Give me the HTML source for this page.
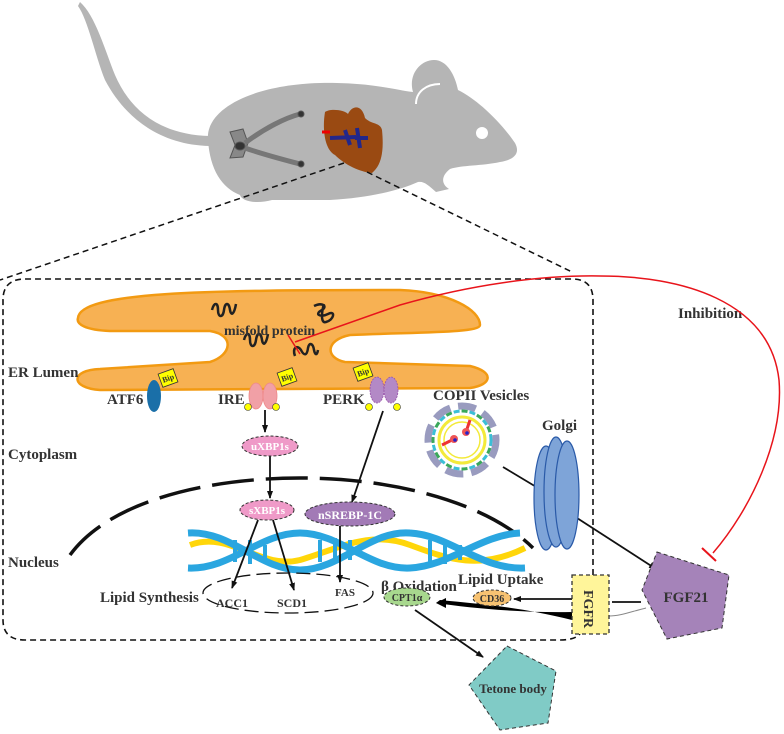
<!DOCTYPE html>
<html><head><meta charset="utf-8"><style>
html,body{margin:0;padding:0;background:#fff}
svg{display:block}
text{font-family:"Liberation Serif",serif;font-weight:bold;fill:#333}
</style></head><body>
<svg width="784" height="734" viewBox="0 0 784 734" xmlns="http://www.w3.org/2000/svg">
<defs>
<marker id="ar" markerWidth="8" markerHeight="8" refX="7" refY="4" orient="auto" markerUnits="userSpaceOnUse"><path d="M0,1 L8,4 L0,7 Z" fill="#111"/></marker>
</defs>
<!-- mouse -->
<g fill="#b5b5b5">
<path d="M80,2 C95,15 105,50 115,75 C130,110 160,135 210,136 L210,146 C160,145 125,118 105,80 C95,55 88,20 78,6 Z"/>
<path d="M208,140 C205,110 250,85 320,83 C370,82 395,90 413,92 C408,75 420,60 434,60 C447,60 455,75 458,90 C482,102 505,128 515,143 C521,154 513,160 500,162 C482,166 462,165 450,169 C441,176 441,184 449,189 L436,192 C428,185 424,181 418,182 C400,190 370,198 330,200 L272,200 C258,204 242,202 240,195 C222,188 210,170 208,140 Z"/>
</g>
<path d="M416,104 C416,92 426,84 440,84" stroke="#fff" stroke-width="2" fill="none"/>
<circle cx="482" cy="133" r="6" fill="#fff"/>
<!-- kidneys -->
<g stroke="#555" fill="#888">
<path d="M230,132 L243,129 L248,143 L243,157 L230,158 L235,145 Z"/>
<path d="M245,143 C265,128 285,118 300,114" stroke="#777" stroke-width="5" fill="none"/>
<path d="M245,148 C265,155 285,160 300,164" stroke="#777" stroke-width="5" fill="none"/>
<circle cx="301" cy="114" r="3" fill="#333"/><circle cx="301" cy="164" r="3" fill="#333"/>
<ellipse cx="240" cy="146" rx="5" ry="4" fill="#333"/>
</g>
<!-- liver -->
<path d="M325,112 C330,108 345,110 348,114 C352,105 362,104 365,118 C372,125 380,122 382,130 C384,150 382,165 372,173 C360,172 345,165 335,155 C325,150 322,130 325,112 Z" fill="#9a4a12"/>
<path d="M330,138 L356,137 M345,130 L350,145 M357,128 L360,148 M355,138 L368,138" stroke="#22278a" stroke-width="4"/>
<path d="M322,132 L330,132" stroke="#e00" stroke-width="3"/>
<!-- zoom lines -->
<path d="M344,163 L0,280" stroke="#111" stroke-width="1.5" stroke-dasharray="6,4" fill="none"/>
<path d="M367,172 L572,272" stroke="#111" stroke-width="1.5" stroke-dasharray="6,4" fill="none"/>
<!-- cell frame -->
<path d="M593,575 L593,300 Q593,279 572,279 L25,279 Q3,279 3,300 L3,620 Q3,640 25,640 L560,640 Q575,640 580,634" stroke="#111" stroke-width="1.6" stroke-dasharray="6,4" fill="none"/>
<!-- ER -->
<path d="M78,318 C80,292 200,290 400,290 C450,292 480,310 480,325 C480,333 420,332 350,335 C325,340 325,358 345,362 L470,366 C495,372 492,385 470,388 L100,390 C70,388 70,370 100,369 L210,362 C232,355 235,335 210,331 L110,331 C85,330 76,324 78,318 Z" fill="#f7b153" stroke="#f29a12" stroke-width="2.5"/>
<!-- misfold squiggles -->
<g stroke="#222" stroke-width="2.5" fill="none">
<path d="M212,310 c2,-8 6,-8 6,0 c0,8 5,8 6,0 c1,-8 5,-8 6,0 c1,6 4,5 6,-6"/>
<path d="M244,340 c2,-8 6,-8 6,0 c0,8 5,8 6,0 c1,-8 5,-8 6,0 c1,6 4,5 6,-6"/>
<path d="M295,356 c-3,-8 2,-12 6,-6 c3,6 6,6 7,-2 c1,-6 5,-5 6,2 c1,5 3,6 4,0"/>
<path d="M314,306 c8,-4 14,0 8,4 c-8,4 -2,8 6,4 c8,-4 6,6 -2,8 c-6,2 -4,-12 -2,-18"/>
</g>
<text x="224" y="335" font-size="14">misfold protein</text>
<!-- Bip & receptors -->
<g font-size="8">
<g transform="translate(168,378) rotate(-20)"><rect x="-8" y="-7" width="16" height="14" fill="#ff0" stroke="#333" stroke-width=".8"/><text x="-6" y="3">Bip</text></g>
<g transform="translate(287,377) rotate(-20)"><rect x="-8" y="-7" width="16" height="14" fill="#ff0" stroke="#333" stroke-width=".8"/><text x="-6" y="3">Bip</text></g>
<g transform="translate(363,372) rotate(-20)"><rect x="-8" y="-7" width="16" height="14" fill="#ff0" stroke="#333" stroke-width=".8"/><text x="-6" y="3">Bip</text></g>
</g>
<ellipse cx="154" cy="396" rx="7" ry="16" fill="#1a6fa8"/>
<ellipse cx="256" cy="396" rx="7" ry="13" fill="#f1a0a6" stroke="#e88" stroke-width=".8"/>
<ellipse cx="270" cy="396" rx="7" ry="13" fill="#f1a0a6" stroke="#e88" stroke-width=".8"/>
<ellipse cx="377" cy="390" rx="7" ry="13" fill="#b389c6" stroke="#95a" stroke-width=".8" stroke-dasharray="2,1"/>
<ellipse cx="391" cy="390" rx="7" ry="13" fill="#b389c6" stroke="#95a" stroke-width=".8" stroke-dasharray="2,1"/>
<g fill="#ff0" stroke="#333" stroke-width=".6"><circle cx="248" cy="407" r="3.5"/><circle cx="276" cy="407" r="3.5"/><circle cx="369" cy="407" r="3.5"/><circle cx="397" cy="407" r="3.5"/></g>
<g font-size="15">
<text x="8" y="377">ER Lumen</text>
<text x="107" y="404">ATF6</text>
<text x="218" y="404">IRE</text>
<text x="323" y="404">PERK</text>
<text x="8" y="459">Cytoplasm</text>
<text x="8" y="567">Nucleus</text>
<text x="100" y="602">Lipid Synthesis</text>
<text x="433" y="400">COPII Vesicles</text>
<text x="542" y="430">Golgi</text>
<text x="678" y="318">Inhibition</text>
<text x="381" y="591">β Oxidation</text>
<text x="458" y="584">Lipid Uptake</text>
</g>
<!-- nucleus arc -->
<path d="M70,555 C110,500 210,478 300,478 C400,478 490,505 533,548" stroke="#111" stroke-width="3.5" stroke-dasharray="42,12" fill="none"/>
<!-- DNA -->
<g fill="none" stroke-width="6">
<path d="M190,545 C230,530 260,570 300,560 C340,548 370,530 410,545 C450,560 480,570 525,548" stroke="#ffd60a"/>
<path d="M188,533 C230,530 260,570 300,570 C340,570 370,530 410,533 C450,535 480,570 525,568" stroke="#2aa6e0" stroke-width="7"/>
<path d="M188,568 C230,570 260,533 300,533 C340,533 370,570 410,568 C450,566 480,535 520,533" stroke="#2aa6e0" stroke-width="7"/>
</g>
<g stroke="#2aa6e0" stroke-width="4"><path d="M235,540 v22 M250,540 v24 M265,545 v15 M320,540 v22 M335,538 v25 M350,540 v20 M430,540 v22 M445,540 v24 M460,545 v15"/></g>
<!-- arrows -->
<g stroke="#111" stroke-width="1.8" fill="none" marker-end="url(#ar)">
<path d="M265,410 L265,432"/>
<path d="M270,456 L270,498"/>
<path d="M383,411 L352,502"/>
<path d="M258,520 L232,588"/>
<path d="M273,520 L294,590"/>
<path d="M340,526 L340,582"/>
<path d="M503,467 L553,497" marker-end="none"/>
<path d="M577,518 L656,569"/>
<path d="M641,602 L612,602" marker-end="none"/>
<path d="M572,599 L514,599"/>
<path d="M415,610 L483,657"/>
</g>
<path d="M572,612 C520,613 470,608 436,603 L440,600 C480,604 520,607 572,620 Z" fill="#000"/>
<path d="M436,603 L446,598 L446,608 Z" fill="#000"/>
<path d="M646,608 C630,612 620,616 609,616" stroke="#888" stroke-width="1" fill="none"/>
<!-- ellipses -->
<g stroke="#333" stroke-width="1" stroke-dasharray="3,2">
<ellipse cx="270" cy="446" rx="28" ry="10" fill="#ef9ac8"/>
<ellipse cx="267" cy="510" rx="27" ry="10" fill="#ef9ac8"/>
<ellipse cx="350" cy="514" rx="45" ry="12" fill="#a27ab6"/>
<ellipse cx="407" cy="597" rx="23" ry="9" fill="#a8d88e"/>
<ellipse cx="492" cy="598" rx="19" ry="8" fill="#f7c272"/>
</g>
<ellipse cx="288" cy="593" rx="85" ry="20" fill="none" stroke="#111" stroke-width="1.3" stroke-dasharray="14,6"/>
<g font-size="11">
<text x="270" y="450" text-anchor="middle" style="fill:#fff">uXBP1s</text>
<text x="267" y="514" text-anchor="middle" style="fill:#fff">sXBP1s</text>
<text x="350" y="519" text-anchor="middle" style="fill:#fff" font-size="12">nSREBP-1C</text>
<text x="407" y="601" text-anchor="middle" font-size="10">CPT1α</text>
<text x="492" y="602" text-anchor="middle" font-size="10">CD36</text>
<text x="232" y="607" text-anchor="middle" font-size="12">ACC1</text>
<text x="292" y="607" text-anchor="middle" font-size="12">SCD1</text>
<text x="345" y="596" text-anchor="middle" font-size="11">FAS</text>
</g>
<!-- COPII vesicle -->
<g transform="translate(462,440)">
<circle r="34" fill="none" stroke="#999bbf" stroke-width="7" stroke-dasharray="18,8"/>
<circle r="29" fill="none" stroke="#3bbfd6" stroke-width="3" stroke-dasharray="6,10"/>
<circle r="29" fill="none" stroke="#3aa85a" stroke-width="3" stroke-dasharray="6,10" stroke-dashoffset="8"/>
<circle r="23" fill="none" stroke="#f3ea3a" stroke-width="3"/>
<circle r="18" fill="none" stroke="#f3ea3a" stroke-width="1.5"/>
<path d="M-20,5 L-8,-1 M8,-20 L4,-8" stroke="#e33" stroke-width="3"/>
<circle cx="-8" cy="-1" r="4" fill="#e55"/><circle cx="4" cy="-8" r="4" fill="#e55"/>
<circle cx="-7" cy="0" r="1.8" fill="#22c"/><circle cx="5" cy="-7" r="1.8" fill="#22c"/>
</g>
<!-- Golgi -->
<g fill="#7ea4d8" stroke="#2a5aa8" stroke-width="1.2">
<ellipse cx="546" cy="498" rx="12" ry="52"/>
<ellipse cx="556" cy="492" rx="12" ry="55"/>
<ellipse cx="567" cy="495" rx="12" ry="54"/>
</g>
<!-- FGFR -->
<rect x="572" y="575" width="37" height="59" fill="#fff59a" stroke="#333" stroke-width="1.3" stroke-dasharray="4,3"/>
<text transform="translate(584,590) rotate(90)" font-size="14">FGFR</text>
<!-- FGF21 -->
<polygon points="657,552 729,575 722,628 667,639 642,590" fill="#a583b9" stroke="#333" stroke-width="1" stroke-dasharray="4,3"/>
<text x="686" y="602" text-anchor="middle" font-size="15">FGF21</text>
<!-- Tetone body -->
<polygon points="507,646 556,671 548,723 500,730 469,685" fill="#80cbc6" stroke="#333" stroke-width="1" stroke-dasharray="4,3"/>
<text x="513" y="693" text-anchor="middle" font-size="13">Tetone body</text>
<!-- red inhibition -->
<path d="M295,342 L400,305 C470,285 540,275 600,276 C680,276 770,300 779,380 C784,440 750,510 713,553" stroke="#e8141b" stroke-width="1.5" fill="none"/>
<path d="M702,548 L716,561" stroke="#e8141b" stroke-width="2"/>
<path d="M288,335 L300,354" stroke="#e8141b" stroke-width="1.5"/>
</svg>
</body></html>
